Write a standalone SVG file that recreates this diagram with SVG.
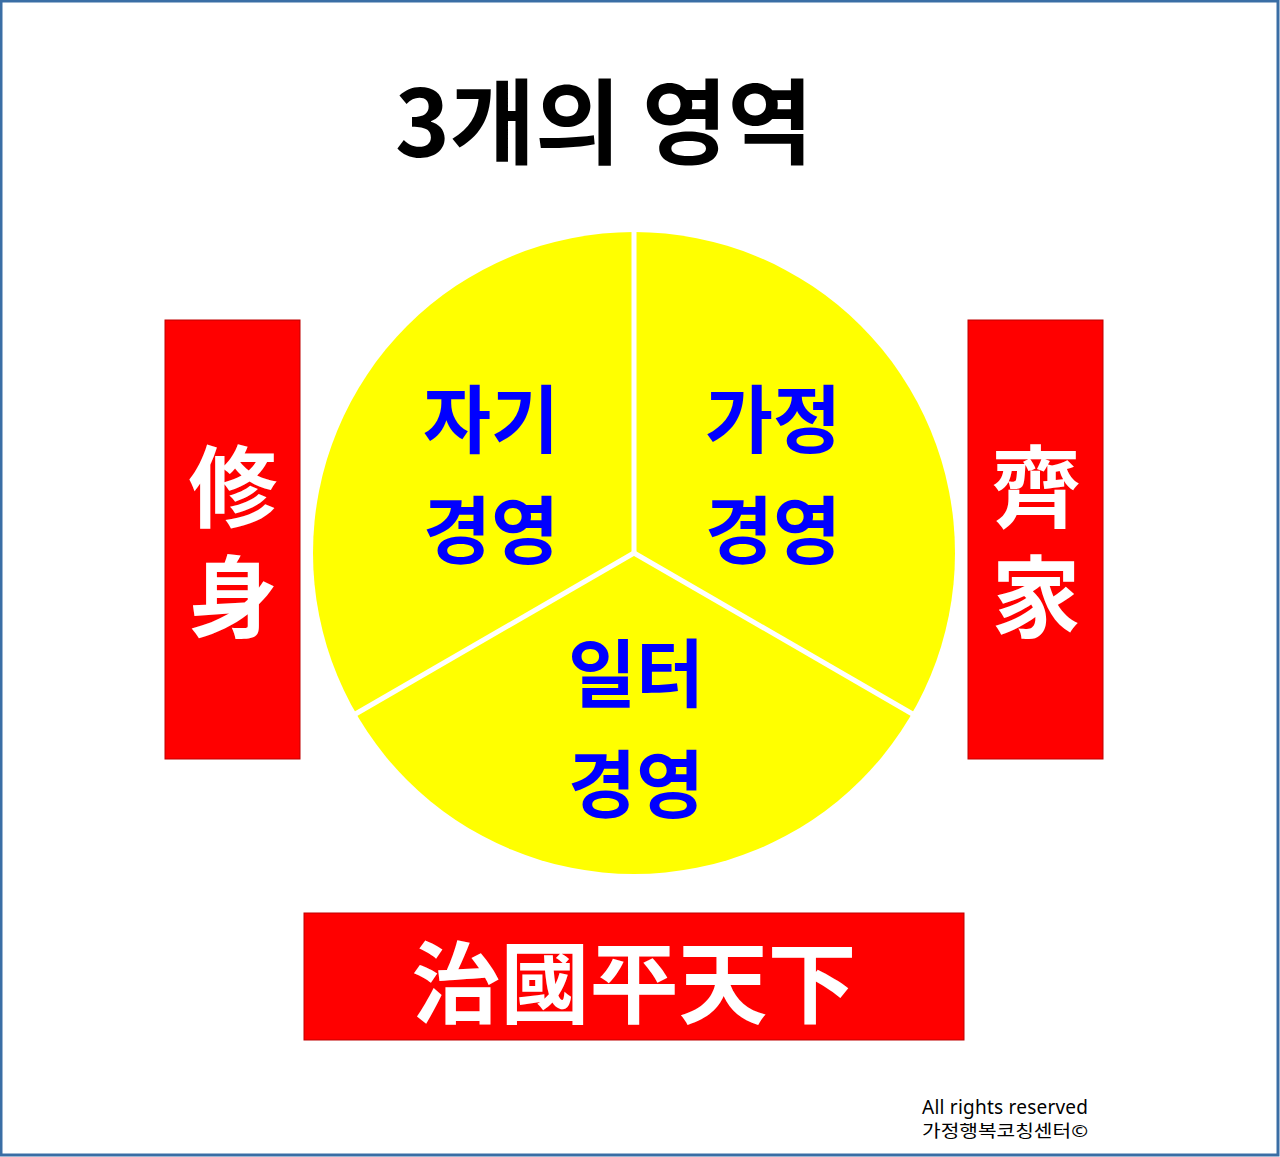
<svg xmlns="http://www.w3.org/2000/svg" width="1280" height="1157" viewBox="0 0 1280 1157">
  <style>
    .kr { font-family: "Noto Sans CJK KR", "Noto Sans", sans-serif; font-weight: bold; }
    .blue { fill: #0000ff; font-size: 74px; text-anchor: middle; }
    .white { fill: #ffffff; font-size: 89px; text-anchor: middle; }
    .vert { writing-mode: vertical-rl; letter-spacing: 21px; }
    .box { fill: #ff0000; stroke: #c00000; stroke-width: 1; }
    .div { stroke: #ffffff; stroke-width: 5; fill: none; }
    .foot { font-family: "Noto Sans", "Noto Sans CJK KR", sans-serif; font-size: 19px; fill: #000000; }
  </style>
  <rect x="0" y="0" width="1280" height="1157" fill="#ffffff"/>
  <rect x="1" y="1" width="1277" height="1154" fill="none" stroke="#3a6ea5" stroke-width="3"/>

  <g id="title">
    <text class="kr" x="604" y="157" font-size="93" text-anchor="middle" fill="#000000">3개의 영역</text>
  </g>

  <g id="circle">
    <circle cx="634" cy="553" r="321" fill="#ffff00"/>
  </g>

  <g id="connectors">
    <line class="div" x1="634" y1="553" x2="634" y2="228"/>
    <line class="div" x1="634" y1="553" x2="352" y2="716"/>
    <line class="div" x1="634" y1="553" x2="916" y2="716"/>
  </g>

  <g id="self">
    <text class="kr blue" x="491" y="447">자기<tspan x="491" y="558">경영</tspan></text>
  </g>
  <g id="family">
    <text class="kr blue" x="773" y="447">가정<tspan x="773" y="558">경영</tspan></text>
  </g>
  <g id="work">
    <text class="kr blue" x="636" y="701">일터<tspan x="636" y="812">경영</tspan></text>
  </g>

  <g id="susin">
    <rect class="box" x="165" y="320" width="135" height="439"/>
    <text class="kr white vert" x="233" y="552">修身</text>
  </g>
  <g id="jega">
    <rect class="box" x="968" y="320" width="135" height="439"/>
    <text class="kr white vert" x="1036" y="552">齊家</text>
  </g>
  <g id="chiguk">
    <rect class="box" x="304" y="913" width="660" height="127"/>
    <text class="kr white" x="634" y="1016">治國平天下</text>
  </g>

  <g id="footer">
    <text class="foot" x="922" y="1114"><tspan textLength="166" lengthAdjust="spacing">All rights reserved</tspan><tspan x="922" y="1137" font-size="17" textLength="166" lengthAdjust="spacingAndGlyphs">가정행복코칭센터©</tspan></text>
  </g>
</svg>
